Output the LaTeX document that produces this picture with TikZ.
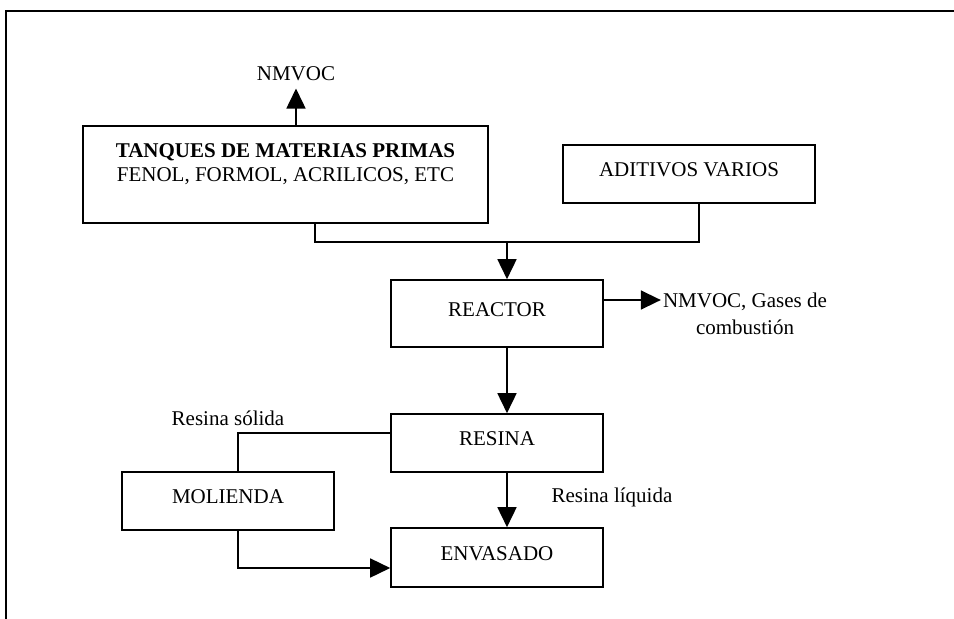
\documentclass[tikz,border=0pt]{standalone}
\usepackage{fontspec}
\setmainfont{Liberation Serif}
\usetikzlibrary{arrows.meta}
\begin{document}
\begin{tikzpicture}[x=1pt,y=-1pt,
  every node/.style={font=\fontsize{21}{24}\selectfont},
  procbox/.style={draw,line width=1.6pt,text depth=8pt,inner sep=0pt},
  flow/.style={line width=1.6pt},
  arr/.style={flow,-{Triangle[length=20pt,width=19pt]}},
  tag/.style={inner sep=0pt,anchor=base}]
\useasboundingbox (0,0) rectangle (954,619);
% open frame: top and left edges only
\draw[line width=2pt] (954,11) -- (6,11) -- (6,619);

% process boxes
\node[draw,line width=1.6pt,inner sep=0pt,align=center,minimum width=405pt,minimum height=97pt]
  (tanques) at (285.5,174.5) {\textbf{TANQUES DE MATERIAS PRIMAS}\\FENOL, FORMOL, ACRILICOS, ETC\\\mbox{}};
\node[procbox,minimum width=252pt,minimum height=58pt] (aditivos) at (689,174) {ADITIVOS VARIOS};
\node[procbox,minimum width=212pt,minimum height=67pt] (reactor) at (497,313.5) {REACTOR};
\node[procbox,minimum width=212pt,minimum height=58pt] (resina) at (497,443) {RESINA};
\node[procbox,minimum width=212pt,minimum height=58pt] (molienda) at (228,501) {MOLIENDA};
\node[procbox,minimum width=212pt,minimum height=59pt] (envasado) at (497,557.5) {ENVASADO};

% stream labels
\node[tag] (nmvoc) at (296,80) {NMVOC};
\node[inner xsep=2pt,inner ysep=0pt,align=center,font=\fontsize{21}{27}\selectfont]
  (emis) at (745,313.5) {NMVOC, Gases de\\combustión};
\node[tag] (solida) at (228,425) {Resina sólida};
\node[tag] (liquida) at (612,502) {Resina líquida};

% connectors
\coordinate (j) at (507,242);
\coordinate (ta) at ([xshift=29.5]tanques.south);
\coordinate (ad) at ([xshift=10]aditivos.south);
\draw[arr,shorten >=8pt] ([xshift=10.5]tanques.north) -- (nmvoc.south);
\draw[flow] (ta) |- (j) -| (ad);
\draw[arr] (j) -- ([xshift=10]reactor.north);
\draw[arr] ([yshift=13.5]reactor.east) -- ([yshift=13.5]emis.west);
\draw[arr] ([xshift=10]reactor.south) -- ([xshift=10]resina.north);
\draw[arr] ([xshift=10]resina.south) -- ([xshift=10]envasado.north);
\draw[flow] ([yshift=10]resina.west) -| ([xshift=10]molienda.north);
\draw[arr] ([xshift=10]molienda.south) |- ([yshift=-10.5]envasado.west);
\end{tikzpicture}
\end{document}
